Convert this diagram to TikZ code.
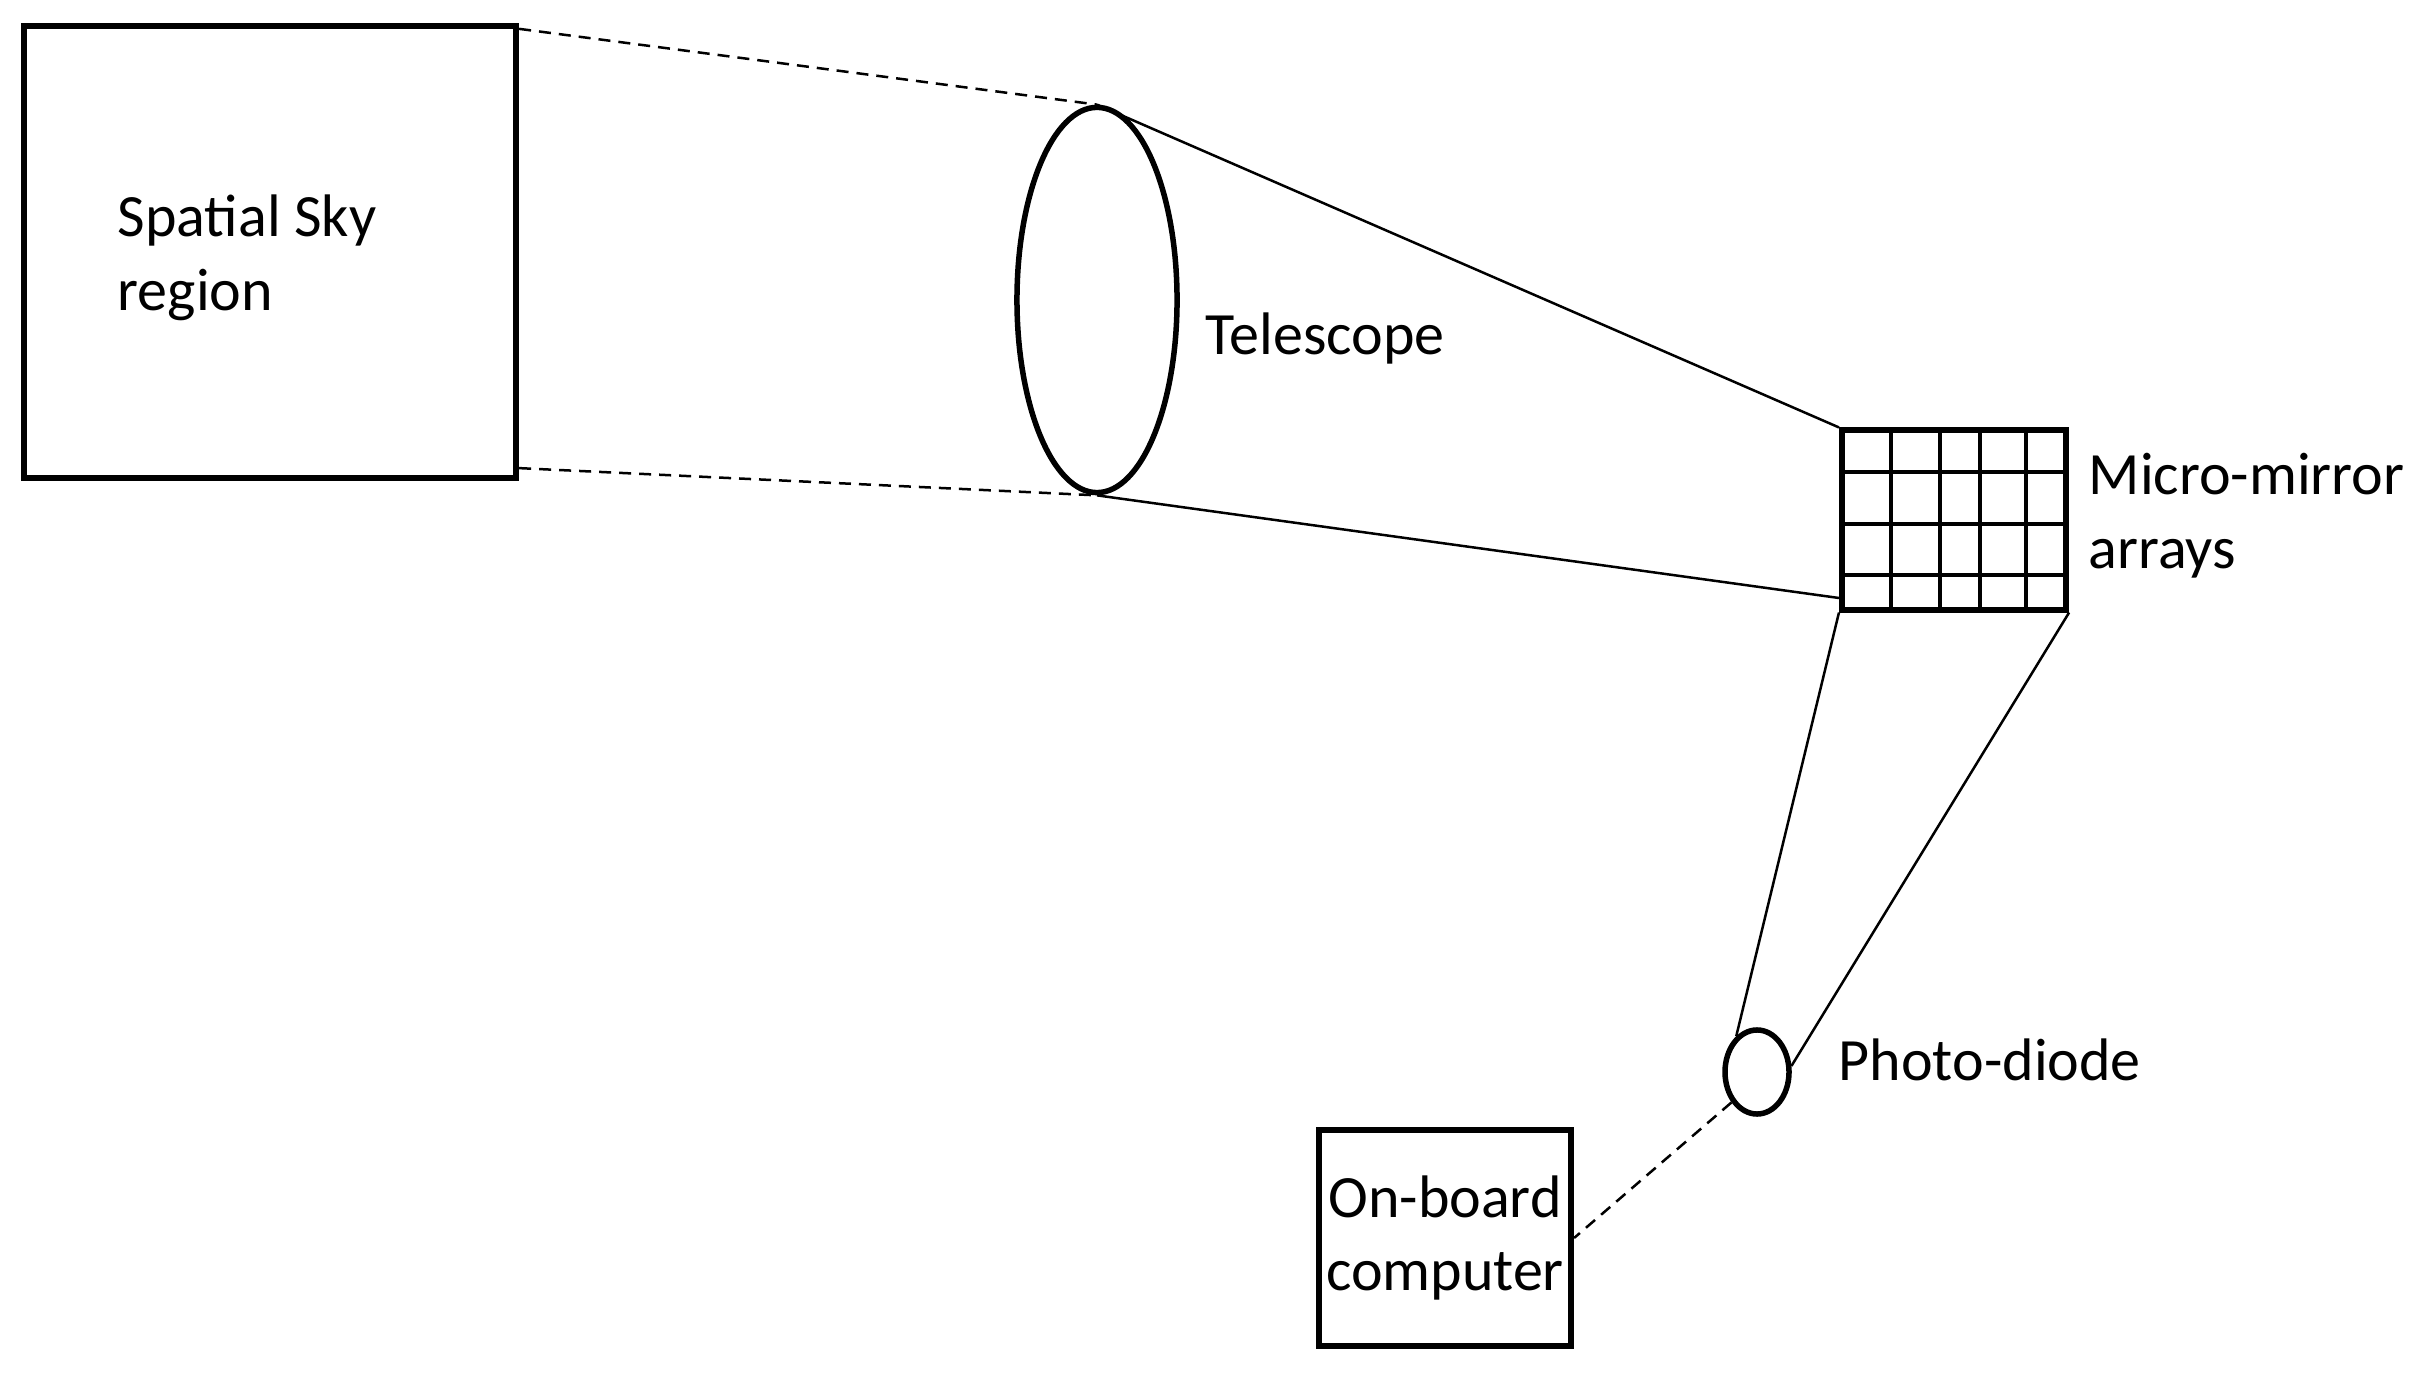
\documentclass[tikz,border=0pt]{standalone}
\usepackage{fontspec}
\setmainfont{Carlito}
\usetikzlibrary{shapes.geometric,calc}
\begin{document}
\begin{tikzpicture}[x=0.01cm,y=-0.01cm,
  thickbox/.style={draw, rectangle, line width=0.06cm, inner sep=0pt},
  lens/.style={draw, ellipse, line width=0.055cm, inner sep=0pt},
  ray/.style={line width=0.025cm},
  dashray/.style={line width=0.025cm, dash pattern=on 0.12cm off 0.08cm},
  gridline/.style={line width=0.035cm},
  lbl/.style={font=\fontsize{17.07pt}{21pt}\selectfont, inner sep=0pt, anchor=west, align=left}]
\useasboundingbox (0,0) rectangle (2422,1377);

% nodes
\node[thickbox, minimum width=4.92cm, minimum height=4.52cm] (sky) at (270,252) {};
\node[lbl] (skytxt) at (117,258) {Spatial Sky\\region};

\node[lens, minimum width=1.6cm, minimum height=3.85cm] (tel) at (1097,300) {};
\node[lbl] (teltxt) at (1205,339) {Telescope};

\node[thickbox, minimum width=2.24cm, minimum height=1.79cm] (mm) at (1954,520) {};
\node[lbl] (mmtxt) at (2088,516) {Micro-mirror\\arrays};

\node[lens, minimum width=0.64cm, minimum height=0.84cm] (pd) at (1757,1072) {};
\node[lbl] (pdtxt) at (1838,1060) {Photo-diode};

\node[thickbox, minimum width=2.52cm, minimum height=2.16cm, align=center,
      font=\fontsize{17.07pt}{21pt}\selectfont] (obc) at (1445,1238) {\raisebox{-0.05cm}{On-board}\\\raisebox{-0.05cm}{computer}};

% micro-mirror grid
\foreach \gx in {1891,1940,1980,2026}
  \draw[gridline] (\gx,429) -- (\gx,610);
\foreach \gy in {472,524,575}
  \draw[gridline] (1841,\gy) -- (2067,\gy);

% connectors
\draw[dashray] ($(sky.north east)+(0,6)$) -- (tel.north);
\draw[dashray] ($(sky.south east)+(0,-13)$) -- (tel.south);
\draw[ray] (tel.north) -- (mm.north west);
\draw[ray] (tel.south) -- (mm.south west |- 0,598);
\draw[ray] (mm.south west) -- (pd.120);
\draw[ray] (mm.south east) -- (pd.10);
\draw[dashray] (pd.230) -- (obc.east);
\end{tikzpicture}
\end{document}
